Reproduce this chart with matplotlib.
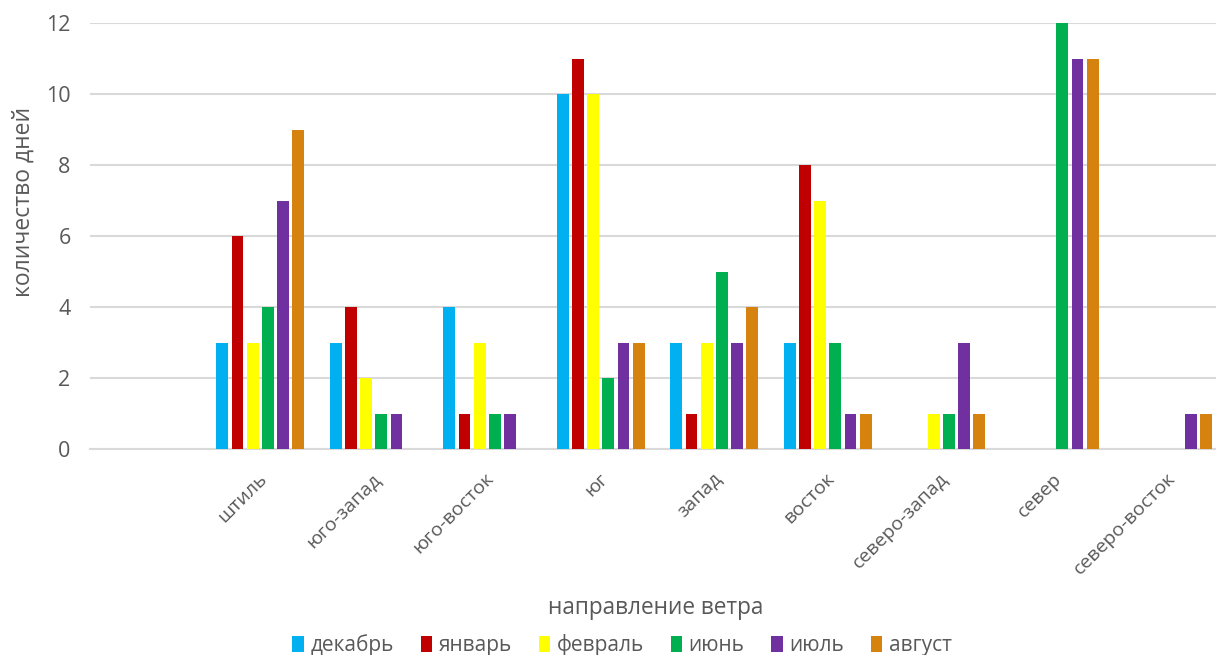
import matplotlib
matplotlib.use("Agg")
import matplotlib.pyplot as plt
import matplotlib.transforms as mtransforms
import numpy as np

categories = ["", "штиль", "юго-запад", "юго-восток", "юг", "запад", "восток",
              "северо-запад", "север", "северо-восток"]
series_names = ["декабрь", "январь", "февраль", "июнь", "июль", "август"]
dec = [0, 3, 3, 4, 10, 3, 3, 0, 0, 0]
jan = [0, 6, 4, 1, 11, 1, 8, 0, 0, 0]
feb = [0, 3, 2, 3, 10, 3, 7, 1, 0, 0]
jun = [0, 4, 1, 1, 2, 5, 3, 1, 12, 0]
jul = [0, 7, 1, 1, 3, 3, 1, 3, 11, 1]
aug = [0, 9, 0, 0, 3, 4, 1, 1, 11, 1]
colors = ["#00B0F0", "#C00000", "#FFFF00", "#00B050", "#7030A0", "#D5820F"]
yticks = [0, 2, 4, 6, 8, 10, 12]

series = [dec, jan, feb, jun, jul, aug]

plt.rcParams['font.family'] = ['Open Sans', 'DejaVu Sans']
W, H = 1216, 655
fig = plt.figure(figsize=(W / 100, H / 100), dpi=100)
left_px, right_px, top_px, bot_px = 90, 1225, 23, 449
ax = fig.add_axes([left_px / W, (H - bot_px) / H, (right_px - left_px) / W, (bot_px - top_px) / H])

x = np.arange(len(categories))
step = 0.134
width = 0.104
for i, (vals, c, name) in enumerate(zip(series, colors, series_names)):
    v = np.array(vals, dtype=float)
    ax.bar(x + (i - 2.5) * step, v, width=width, color=c, label=name, zorder=3)

ax.set_xlim(-0.5, len(categories) - 0.5)
ax.set_ylim(0, 12)
ax.set_yticks(yticks)
ax.set_yticklabels([str(t) for t in yticks], fontsize=15.5, color="#595959")
ax.yaxis.grid(True, color="#D9D9D9", linewidth=1.5, zorder=0)
for s in ["top", "right", "left"]:
    ax.spines[s].set_visible(False)
ax.spines["bottom"].set_color("#D9D9D9")
ax.spines["bottom"].set_linewidth(1.5)
ax.tick_params(axis="both", length=0)
ax.tick_params(axis="y", pad=14)

ax.set_xticks(x)
ax.set_xticklabels(categories, rotation=45, ha="right", va="center",
                   rotation_mode="anchor", fontsize=14, color="#595959")
offset = mtransforms.ScaledTranslation(4 / 100, -22 / 100, fig.dpi_scale_trans)
for lbl in ax.get_xticklabels():
    lbl.set_transform(lbl.get_transform() + offset)

fig.text(24 / W, 1 - 202 / H, "количество дней", rotation=90, ha="center", va="center",
         fontsize=16.5, color="#595959")

fig.text(656 / W, 1 - 608 / H, "направление ветра", ha="center", va="center",
         fontsize=16.3, color="#595959")

leg = fig.legend(loc="center", bbox_to_anchor=(622 / W, 1 - 645 / H), ncol=6,
                 frameon=False, fontsize=15, handlelength=0.55, handleheight=0.8,
                 handletextpad=0.3, columnspacing=1.3, labelcolor="#595959")

fig.savefig("out.png", dpi=100)
